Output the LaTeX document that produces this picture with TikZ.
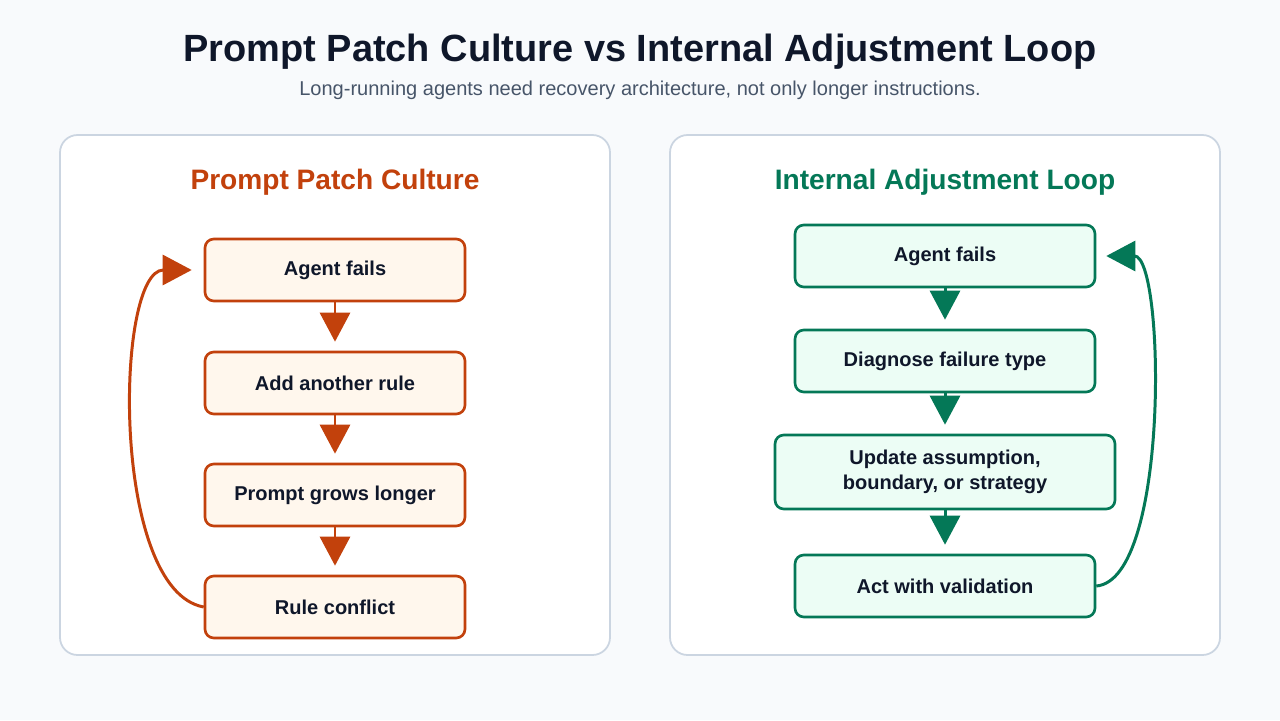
\documentclass[tikz,border=0pt]{standalone}
\usepackage{fontspec}
\setmainfont{Liberation Sans}
\usepackage{xcolor}
\usetikzlibrary{arrows.meta, positioning}
\definecolor{bgcol}{HTML}{F8FAFC}
\definecolor{ink}{HTML}{0F172A}
\definecolor{subink}{HTML}{475569}
\definecolor{panelline}{HTML}{CBD5E1}
\definecolor{patch}{HTML}{C2410C}
\definecolor{patchfill}{HTML}{FFF7ED}
\definecolor{adjust}{HTML}{047857}
\definecolor{adjustfill}{HTML}{ECFDF5}

\begin{document}
\begin{tikzpicture}[
  x=0.02cm, y=-0.02cm,
  panel/.style={draw=panelline, line width=1pt, fill=white, rounded corners=10pt},
  head/.style={font=\fontsize{16}{19}\selectfont\bfseries},
  patchbox/.style={rectangle, rounded corners=5pt, draw=patch, fill=patchfill, line width=1.5pt,
    minimum width=5.2cm, minimum height=1.24cm, font=\fontsize{11.4}{14.5}\selectfont\bfseries,
    text=ink, align=center},
  adjbox/.style={rectangle, rounded corners=5pt, draw=adjust, fill=adjustfill, line width=1.5pt,
    minimum width=6cm, minimum height=1.24cm, font=\fontsize{11.4}{14.5}\selectfont\bfseries,
    text=ink, align=center},
  arrowL/.style={-{Triangle[length=0.58cm, width=0.6cm]}, line width=1.7pt, patch},
  arrowR/.style={-{Triangle[length=0.58cm, width=0.6cm]}, line width=1.7pt, adjust}
]
% Background
\fill[bgcol] (0,0) rectangle (1280,720);
\useasboundingbox (0,0) rectangle (1280,720);

% Title
\node[font=\fontsize{21.6}{26}\selectfont\bfseries, text=ink] (title) at (640,52)
  {Prompt Patch Culture vs Internal Adjustment Loop};
\node[font=\fontsize{11.4}{14}\selectfont, text=subink] (subtitle) at (640,90)
  {Long-running agents need recovery architecture, not only longer instructions.};

% Panels
\draw[panel] (60,135) rectangle (610,655);
\draw[panel] (670,135) rectangle (1220,655);
\node[head, text=patch] (hl) at (335,182) {Prompt Patch Culture};
\node[head, text=adjust] (hr) at (945,182) {Internal Adjustment Loop};

% Left steps
\node[patchbox] (p1) at (335,270) {Agent fails};
\node[patchbox] (p2) at (335,383) {Add another rule};
\node[patchbox] (p3) at (335,495) {Prompt grows longer};
\node[patchbox] (p4) at (335,607) {Rule conflict};

% Right steps
\node[adjbox] (a1) at (945,256) {Agent fails};
\node[adjbox] (a2) at (945,361) {Diagnose failure type};
\node[adjbox, minimum width=6.8cm, minimum height=1.48cm] (a3) at (945,472)
  {Update assumption,\\boundary, or strategy};
\node[adjbox] (a4) at (945,586) {Act with validation};

% Arrows
\foreach \s/\t in {p1/p2, p2/p3, p3/p4}
  \draw[arrowL] (\s.south) -- ([yshift=0.18cm]\t.north);
\foreach \s/\t in {a1/a2, a2/a3, a3/a4}
  \draw[arrowR] (\s.south) -- ([yshift=0.18cm]\t.north);

% Loops back
\coordinate (lend) at ([xshift=-0.24cm]p1.west);
\coordinate (rend) at ([xshift=0.2cm]a1.east);
\draw[arrowL] (p4.west) .. controls (110,590) and (115,270) .. (lend);
\draw[arrowR] (a4.east) .. controls (1170,580) and (1165,256) .. (rend);
\end{tikzpicture}
\end{document}
